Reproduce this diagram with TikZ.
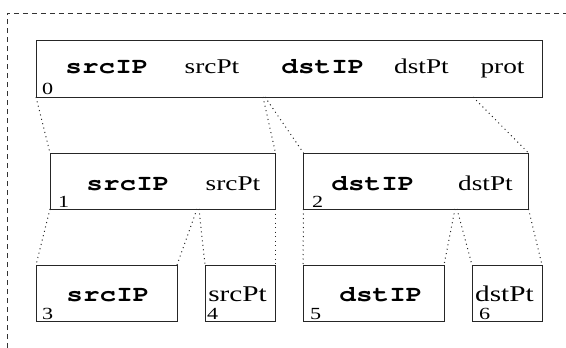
\documentclass[tikz,border=0pt]{standalone}
\usepackage{fontspec}
\setmainfont[FakeStretch=1.3]{Liberation Serif}
\setmonofont[FakeStretch=1.23]{TeX Gyre Cursor}
\begin{document}
\begin{tikzpicture}[x=1pt,y=-1pt,
  box/.style={draw=black!85, line width=0.9pt, inner sep=0pt, outer sep=0pt, anchor=north west},
  lbl/.style={font=\fontsize{17}{16}\selectfont, inner sep=0pt, anchor=base west},
  txt/.style={font=\fontsize{21}{24}\selectfont, inner sep=0pt, anchor=base},
  bigtxt/.style={font=\fontsize{22.5}{24}\selectfont, inner sep=0pt, anchor=base},
  code/.style={font=\fontsize{22.5}{24}\selectfont\ttfamily\bfseries, inner sep=0pt, anchor=base},
  link/.style={line width=1pt, dash pattern=on 1pt off 3.5pt, black!85},
  frame/.style={line width=0.9pt, dash pattern=on 5pt off 4pt, black!80}]
\useasboundingbox (0,0) rectangle (566,348);
% frame
\coordinate (fb) at (7,348);
\coordinate (fc) at (7,13);
\coordinate (fr) at (566,13);
\draw[frame] (fb) -- (fc) -- (fr);
% boxes
\node[box, minimum width=506pt, minimum height=57pt] (b0) at (36,40) {};
\node[box, minimum width=225.5pt, minimum height=56pt] (b1) at (50,153) {};
\node[box, minimum width=225pt, minimum height=56pt] (b2) at (303.5,153) {};
\node[box, minimum width=141pt, minimum height=56pt] (b3) at (36,265) {};
\node[box, minimum width=70.5pt, minimum height=56pt] (b4) at (205,265) {};
\node[box, minimum width=141pt, minimum height=56pt] (b5) at (303,265) {};
\node[box, minimum width=70pt, minimum height=56pt] (b6) at (472,265) {};
% texts box 0
\node[code] (t0a) at (107,73) {srcIP};
\node[txt] (t0b) at (212,73) {srcPt};
\node[code] (t0c) at (323,73) {dstIP};
\node[txt] (t0d) at (421.5,73) {dstPt};
\node[txt] (t0e) at (502.5,73) {prot};
\node[lbl] (l0) at (42,94) {0};
% box 1, 2
\node[code] (t1a) at (128,190) {srcIP};
\node[txt] (t1b) at (233,190) {srcPt};
\node[lbl] (l1) at (58,207) {1};
\node[code] (t2a) at (373,190) {dstIP};
\node[txt] (t2b) at (485.5,190) {dstPt};
\node[lbl] (l2) at (312,207) {2};
% box 3..6
\node[code] (t3) at (108,301) {srcIP};
\node[lbl] (l3) at (42,319) {3};
\node[bigtxt] (t4) at (237.5,301) {srcPt};
\node[lbl] (l4) at (207,319) {4};
\node[code] (t5) at (381,301) {dstIP};
\node[lbl] (l5) at (310,319) {5};
\node[bigtxt] (t6) at (504.5,301) {dstPt};
\node[lbl] (l6) at (479,319) {6};
% split points
\coordinate (s0a) at (263,97);
\coordinate (s0b) at (265,97);
\coordinate (s0c) at (473,97);
\coordinate (s1a) at (197,209);
\coordinate (s1b) at (199,209);
\coordinate (s2a) at (455,209);
\coordinate (s2b) at (457,209);
% links
\draw[link] (b0.south west) -- (b1.north west);
\draw[link] (s0a) -- (b1.north east);
\draw[link] (s0b) -- (b2.north west);
\draw[link] (s0c) -- (b2.north east);
\draw[link] (b1.south west) -- (b3.north west);
\draw[link] (s1a) -- (b3.north east);
\draw[link] (s1b) -- (b4.north west);
\draw[link] (b1.south east) -- (b4.north east);
\draw[link] (b2.south west) -- (b5.north west);
\draw[link] (s2a) -- (b5.north east);
\draw[link] (s2b) -- (b6.north west);
\draw[link] (b2.south east) -- (b6.north east);
\end{tikzpicture}
\end{document}
